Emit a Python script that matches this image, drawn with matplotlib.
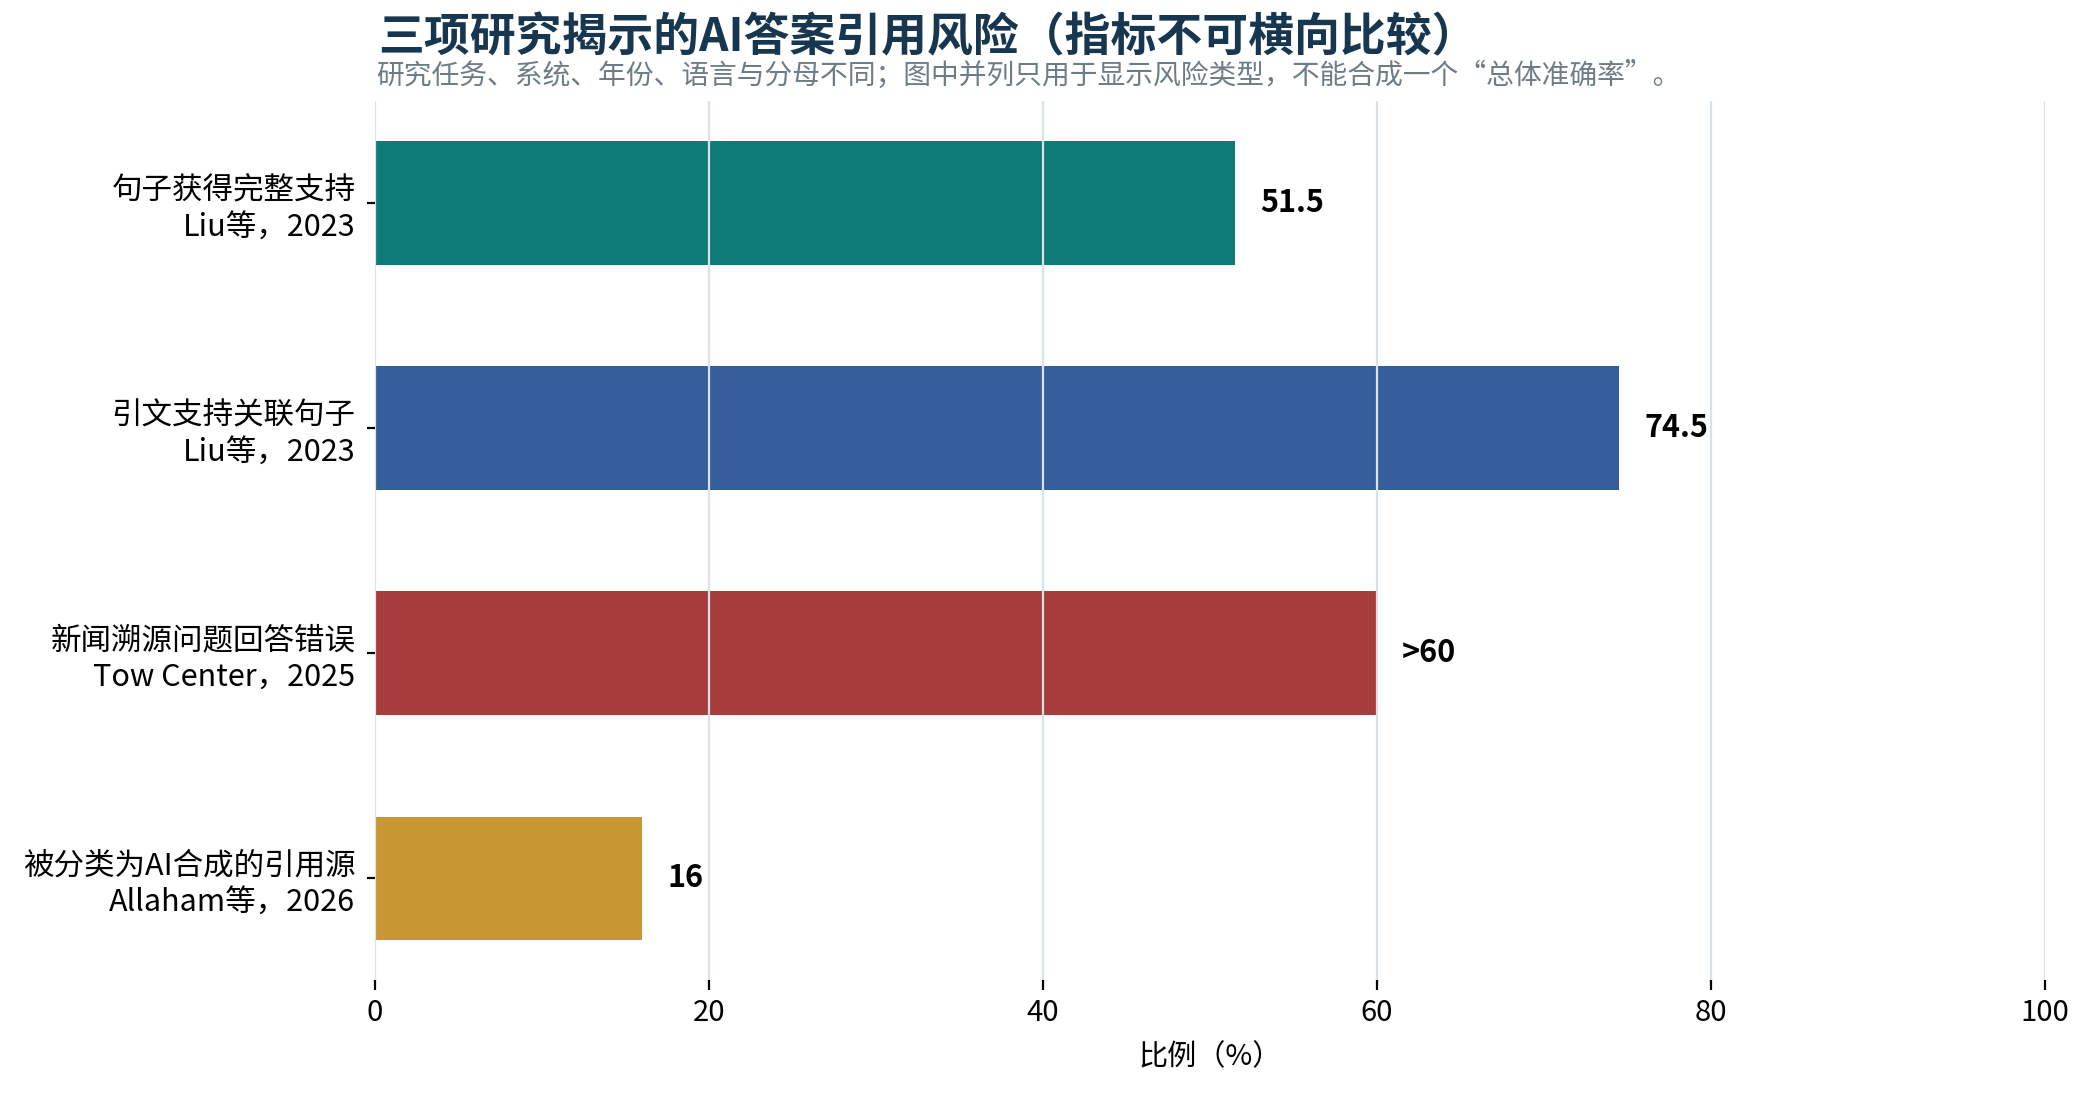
import numpy as np
import matplotlib
matplotlib.use("Agg")
import matplotlib.pyplot as plt

plt.rcParams['font.family'] = ['Noto Sans CJK SC', 'DejaVu Sans']

# 数据
labels = ["句子获得完整支持\nLiu等，2023",
          "引文支持关联句子\nLiu等，2023",
          "新闻溯源问题回答错误\nTow Center，2025",
          "被分类为AI合成的引用源\nAllaham等，2026"]
values = [51.5, 74.5, 60, 16]
value_text = ["51.5", "74.5", ">60", "16"]
colors = ["#0f7b77", "#345e9c", "#a63c3c", "#c89632"]

fig = plt.figure(figsize=(10.47, 5.495), dpi=200)
ax = fig.add_axes([0.179, 0.108, 0.7977, 0.80])

y = np.arange(len(values))
bars = ax.barh(y, values, height=0.55, color=colors, zorder=1)
ax.invert_yaxis()
ax.set_xlim(0, 100)
ax.set_xticks(np.arange(0, 101, 20))
ax.set_yticks(y)
ax.set_yticklabels(labels, fontsize=11, ha='right')
ax.tick_params(axis='y', length=3, width=0.8, pad=4)
ax.tick_params(axis='x', length=3.5, width=0.8, labelsize=10.5, pad=3)

# 网格线画在条形上方
ax.grid(axis='x', color='#d9e2e8', linewidth=0.8, zorder=2)
ax.set_axisbelow(False)
for s in ax.spines.values():
    s.set_visible(False)

for b, t in zip(bars, value_text):
    ax.annotate(t, (b.get_width(), b.get_y() + b.get_height() / 2),
                xytext=(9, 0), textcoords='offset points',
                va='center', ha='left', fontsize=11, fontweight='bold', color='black')

ax.set_xlabel("比例（%）", fontsize=10.5, labelpad=5)

fig.text(0.1805, 0.965, "三项研究揭示的AI答案引用风险（指标不可横向比较）",
         fontsize=16.5, fontweight='bold', color='#17364f', ha='left', va='center')
fig.text(0.1795, 0.931, "研究任务、系统、年份、语言与分母不同；图中并列只用于显示风险类型，不能合成一个“总体准确率”。",
         fontsize=10, color='#6e7c86', ha='left', va='center')

fig.savefig("out.png", dpi=200)
